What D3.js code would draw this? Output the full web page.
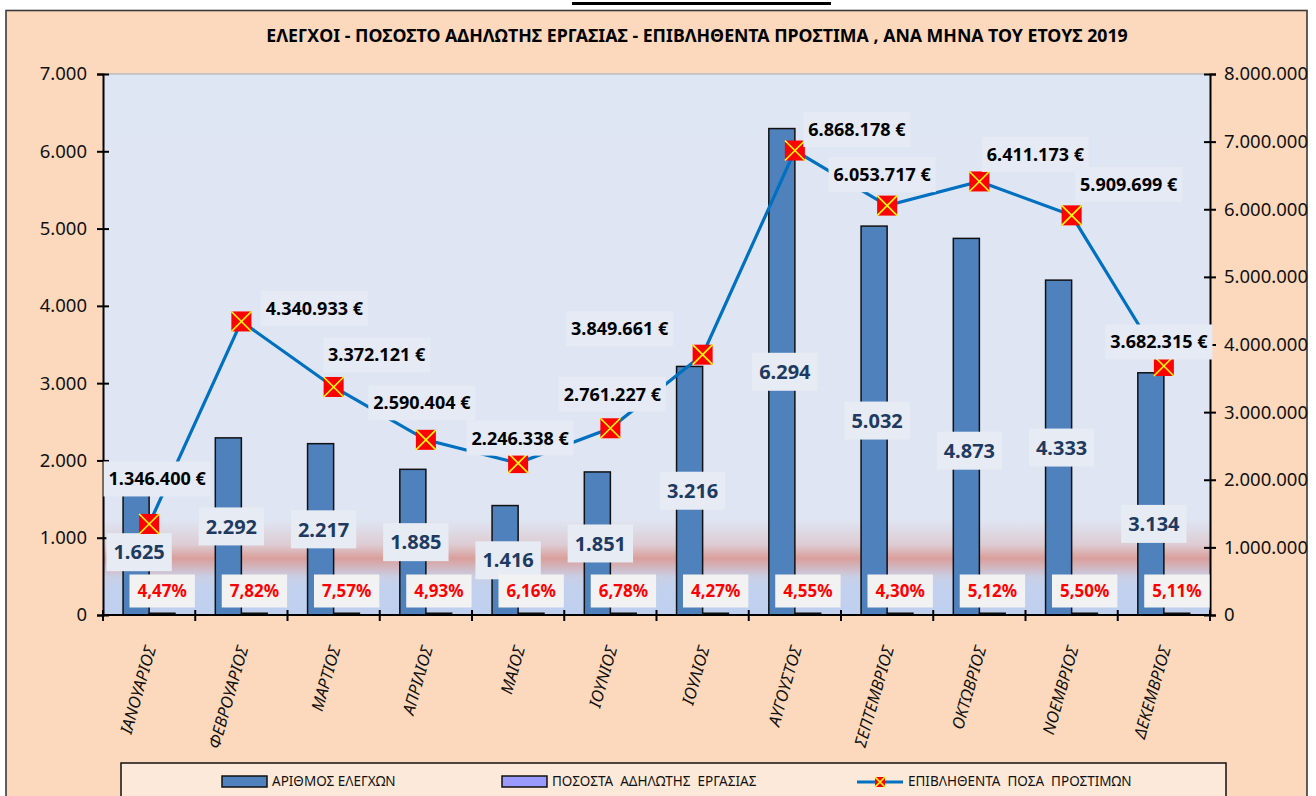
<!DOCTYPE html>
<html>
<head>
<meta charset="utf-8">
<script src="https://cdn.jsdelivr.net/npm/d3@7"></script>
<style>
  html, body { margin: 0; padding: 0; background: #fff; }
  svg { display: block; font-family: "Noto Sans", "DejaVu Sans", sans-serif; }
</style>
</head>
<body>
<div id="chart"></div>
<script>
/* chart: checks, undeclared-work share and fines per month, 2019 */

const TITLE = "ΕΛΕΓΧΟΙ - ΠΟΣΟΣΤΟ ΑΔΗΛΩΤΗΣ ΕΡΓΑΣΙΑΣ - ΕΠΙΒΛΗΘΕΝΤΑ ΠΡΟΣΤΙΜΑ , ΑΝΑ ΜΗΝΑ ΤΟΥ ΕΤΟΥΣ 2019";

const months = [
  "ΙΑΝΟΥΑΡΙΟΣ","ΦΕΒΡΟΥΑΡΙΟΣ","ΜΑΡΤΙΟΣ","ΑΠΡΙΛΙΟΣ","ΜΑΙΟΣ","ΙΟΥΝΙΟΣ",
  "ΙΟΥΛΙΟΣ","ΑΥΓΟΥΣΤΟΣ","ΣΕΠΤΕΜΒΡΙΟΣ","ΟΚΤΩΒΡΙΟΣ","ΝΟΕΜΒΡΙΟΣ","ΔΕΚΕΜΒΡΙΟΣ",
];
const checks   = [1625, 2292, 2217, 1885, 1416, 1851, 3216, 6294, 5032, 4873, 4333, 3134];
const percents = [4.47, 7.82, 7.57, 4.93, 6.16, 6.78, 4.27, 4.55, 4.30, 5.12, 5.50, 5.11];
const fines    = [1346400, 4340933, 3372121, 2590404, 2246338, 2761227,
                  3849661, 6868178, 6053717, 6411173, 5909699, 3682315];

const leftTicks  = [0, 1000, 2000, 3000, 4000, 5000, 6000, 7000];
const rightTicks = [0, 1e6, 2e6, 3e6, 4e6, 5e6, 6e6, 7e6, 8e6];
const legendNames = ["ΑΡΙΘΜΟΣ ΕΛΕΓΧΩΝ", "ΠΟΣΟΣΤΑ  ΑΔΗΛΩΤΗΣ  ΕΡΓΑΣΙΑΣ", "ΕΠΙΒΛΗΘΕΝΤΑ  ΠΟΣΑ  ΠΡΟΣΤΙΜΩΝ"];

// label placement (hand-moved in the original), pixels relative to the marker
const fineLabelShift = [[8,-45],[73,-13],[43,-32],[-4,-37],[2,-25],[2,-34],
                        [-83,-26],[62,-21],[-5,-31],[56,-27],[57,-31],[-5,-24]];
const checkLabelShift = { 9: 24, 11: 30 };

const W = 1316, H = 796;
const P = { left: 103, right: 1210, top: 74, bottom: 615 };

const gr = d3.formatLocale({ decimal: ",", thousands: ".", grouping: [3], currency: ["", " €"] });
const fmtInt = gr.format(",d");
const fmtEur = v => fmtInt(v) + " €";
const fmtPct = gr.format(".2f");

const svg = d3.select("#chart").append("svg").attr("width", W).attr("height", H);

// gradient for plot area
const defs = svg.append("defs");
const grad = defs.append("linearGradient").attr("id", "plotbg")
  .attr("x1", 0).attr("y1", 0).attr("x2", 0).attr("y2", 1);
[[0, "#DFE6F3"], [0.825, "#DFE5F2"], [0.87, "#DDCCD3"], [0.895, "#DA9F9B"],
 [0.93, "#C9CFE6"], [0.95, "#C2D1EE"], [1, "#BFCFEE"]]
  .forEach(([o, c]) => grad.append("stop").attr("offset", o).attr("stop-color", c));

// outer chart area
svg.append("rect").attr("x", 0).attr("y", 0).attr("width", W).attr("height", H).attr("fill", "#fff");
svg.append("rect").attr("x", 572).attr("y", 2).attr("width", 259).attr("height", 3).attr("fill", "#000");
svg.append("rect").attr("x", 6).attr("y", 10.5).attr("width", 1301).attr("height", 800)
  .attr("fill", "#FCD9BC").attr("stroke", "#3a3a3a").attr("stroke-width", 1.6);

// title, fitted to the original width
const title = svg.append("text").attr("x", 697).attr("y", 42)
  .attr("text-anchor", "middle").attr("font-weight", "bold").attr("font-size", 15)
  .attr("fill", "#000").text(TITLE);
const tw = title.node().getComputedTextLength();
title.attr("font-size", 15 * 862 / tw);

// plot area
svg.append("rect").attr("x", P.left).attr("y", P.top)
  .attr("width", P.right - P.left).attr("height", P.bottom - P.top).attr("fill", "url(#plotbg)");
svg.append("line").attr("x1", P.left).attr("x2", P.right).attr("y1", P.top).attr("y2", P.top)
  .attr("stroke", "#B8BCC4").attr("stroke-width", 1.5);

const x = d3.scaleBand().domain(months).range([P.left, P.right]).padding(0);
const xs = d3.scaleBand().domain(["checks", "pct"]).range([0, x.bandwidth()]).paddingOuter(0.77);
const yL = d3.scaleLinear().domain([0, 7000]).range([P.bottom, P.top]);
const yR = d3.scaleLinear().domain([0, 8e6]).range([P.bottom, P.top]);

const rows = months.map((m, i) => ({ m, i, c: checks[i], p: percents[i], f: fines[i] }));

// bars
svg.append("g").selectAll("rect").data(rows).join("rect")
  .attr("x", d => x(d.m) + xs("checks")).attr("width", xs.bandwidth())
  .attr("y", d => yL(d.c)).attr("height", d => yL(0) - yL(d.c))
  .attr("fill", "#4F81BD").attr("stroke", "#111").attr("stroke-width", 1.5);

svg.append("g").selectAll("rect").data(rows).join("rect")
  .attr("x", d => x(d.m) + xs("pct")).attr("width", xs.bandwidth())
  .attr("y", d => yL(d.p / 100) - 2).attr("height", d => yL(0) - yL(d.p / 100) + 2)
  .attr("fill", "#111").attr("stroke", "#111").attr("stroke-width", 1);

// axes
const axL = svg.append("g").attr("transform", `translate(${P.left},0)`)
  .call(d3.axisLeft(yL).tickValues(leftTicks).tickFormat(fmtInt).tickSize(6).tickPadding(10));
axL.selectAll(".tick line").attr("x2", 6).attr("x1", -6);

const axR = svg.append("g").attr("transform", `translate(${P.right},0)`)
  .call(d3.axisRight(yR).tickValues(rightTicks).tickFormat(fmtInt).tickSize(6).tickPadding(8));
axR.selectAll(".tick line").attr("x1", -6).attr("x2", 6);

[axL, axR].forEach(a => {
  a.select(".domain").attr("stroke", "#000").attr("stroke-width", 2);
  a.selectAll(".tick line").attr("stroke", "#000").attr("stroke-width", 2);
  a.selectAll(".tick text").attr("font-size", 18.5).attr("fill", "#111")
    .attr("font-family", "'Noto Sans', sans-serif");
});

// category axis with ticks between months
const xa = svg.append("g");
xa.append("line").attr("x1", P.left).attr("x2", P.right).attr("y1", P.bottom).attr("y2", P.bottom)
  .attr("stroke", "#000").attr("stroke-width", 2);
const bounds = months.map(m => x(m)).concat([x(months[months.length - 1]) + x.bandwidth()]);
xa.selectAll("line.t").data(bounds).join("line").attr("class", "t")
  .attr("x1", d => d).attr("x2", d => d).attr("y1", P.bottom - 5).attr("y2", P.bottom + 6)
  .attr("stroke", "#000").attr("stroke-width", 2);
xa.selectAll("text").data(months).join("text")
  .attr("transform", m => `translate(${x(m) + x.bandwidth() / 2 + 7},${P.bottom + 33}) rotate(-74)`)
  .attr("text-anchor", "end").attr("font-size", 16.5).attr("font-style", "italic")
  .attr("fill", "#111").text(m => m);

// helper: text with a box behind it
function boxedLabel(g, cx, cy, txt, o) {
  const grp = g.append("g");
  const r = grp.append("rect").attr("fill", o.bg);
  const t = grp.append("text").attr("x", cx).attr("y", cy).attr("dy", "0.36em")
    .attr("text-anchor", "middle").attr("font-weight", "bold")
    .attr("font-size", o.size).attr("fill", o.color).text(txt);
  const w = t.node().getComputedTextLength();
  r.attr("x", cx - w / 2 - o.px).attr("width", w + 2 * o.px)
    .attr("y", cy - o.h / 2).attr("height", o.h);
}

// count labels
const cl = svg.append("g");
rows.forEach(d => {
  const cx = x(d.m) + xs("checks") + xs.bandwidth() / 2 + 3;
  const cy = yL(d.c / 2) + (checkLabelShift[d.i] || 0);
  boxedLabel(cl, cx, cy, fmtInt(d.c), { bg: "#E6EBF4", color: "#1F3A60", size: 20, px: 7, h: 38 });
});

// percentage labels
const pl = svg.append("g");
rows.forEach(d => {
  const cx = x(d.m) + xs("pct") + xs.bandwidth() / 2;
  boxedLabel(pl, cx, yL(0) - 24, fmtPct(d.p) + "%", { bg: "#F2F2F2", color: "#FF0000", size: 17, px: 8, h: 33 });
});

// fines line
const px = d => x(d.m) + x.bandwidth() / 2;
svg.append("path").datum(rows)
  .attr("d", d3.line().x(px).y(d => yR(d.f)))
  .attr("fill", "none").attr("stroke", "#0070C0").attr("stroke-width", 3.2);

function marker(g, cx, cy, s) {
  g.append("rect").attr("x", cx - s / 2).attr("y", cy - s / 2).attr("width", s).attr("height", s).attr("fill", "#FF0000");
  g.append("path").attr("d", `M${cx - s / 2},${cy - s / 2}L${cx + s / 2},${cy + s / 2}M${cx + s / 2},${cy - s / 2}L${cx - s / 2},${cy + s / 2}`)
    .attr("stroke", "#FFFF00").attr("stroke-width", 1.6);
}
const mk = svg.append("g");
rows.forEach(d => marker(mk, px(d), yR(d.f), 20));

// fines labels
const fl = svg.append("g");
rows.forEach(d => {
  const [dx, dy] = fineLabelShift[d.i];
  boxedLabel(fl, px(d) + dx, yR(d.f) + dy, fmtEur(d.f), { bg: "#E5EAF4", color: "#000", size: 18, px: 5, h: 35 });
});

// legend
const lg = svg.append("g");
lg.append("rect").attr("x", 121).attr("y", 763).attr("width", 1105).attr("height", 45)
  .attr("fill", "#FDE9D9").attr("stroke", "#111").attr("stroke-width", 1.5);
const ly = 781;
lg.append("rect").attr("x", 222).attr("y", ly - 5).attr("width", 45).attr("height", 11)
  .attr("fill", "#4F81BD").attr("stroke", "#111").attr("stroke-width", 1.5);
lg.append("rect").attr("x", 502).attr("y", ly - 5).attr("width", 45).attr("height", 11)
  .attr("fill", "#9999FF").attr("stroke", "#111").attr("stroke-width", 1.5);
lg.append("line").attr("x1", 857).attr("x2", 903).attr("y1", ly + 1).attr("y2", ly + 1)
  .attr("stroke", "#0070C0").attr("stroke-width", 3.2);
marker(lg, 880, ly + 1, 10);
lg.selectAll("text").data(legendNames).join("text")
  .attr("x", (d, i) => [272, 552, 908][i]).attr("y", ly).attr("dy", "0.36em")
  .attr("font-size", 13.5).attr("fill", "#111").style("white-space", "pre").text(d => d);
</script>
</body>
</html>
